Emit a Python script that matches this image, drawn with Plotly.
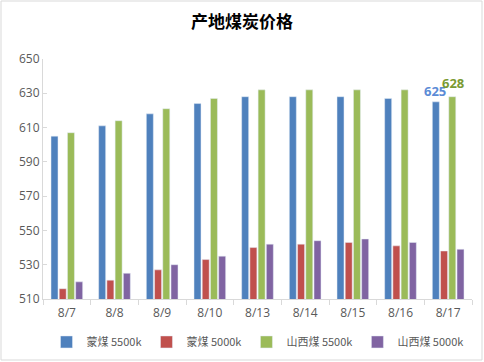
import plotly.graph_objects as go

categories = ["8/7", "8/8", "8/9", "8/10", "8/13", "8/14", "8/15", "8/16", "8/17"]
meng_5500 = [605, 611, 618, 624, 628, 628, 628, 627, 625]
meng_5000 = [516, 521, 527, 533, 540, 542, 543, 541, 538]
shanxi_5500 = [607, 614, 621, 627, 632, 632, 632, 632, 628]
shanxi_5000 = [520, 525, 530, 535, 542, 544, 545, 543, 539]
series_names = ["蒙煤 5500k", "蒙煤 5000k", "山西煤 5500k", "山西煤 5000k"]
colors = ["#4F81BD", "#C0504D", "#9BBB59", "#8064A2"]
y_ticks = [510, 530, 550, 570, 590, 610, 630, 650]

cjk = "Noto Sans CJK SC"
fig = go.Figure()
all_series = [meng_5500, meng_5000, shanxi_5500, shanxi_5000]
for name, vals, c in zip(series_names, all_series, colors):
    fig.add_trace(go.Bar(x=categories, y=vals, name=name, marker_color=c))

# data labels for the last category (blue and green series)
fig.add_annotation(x=categories[-1], y=meng_5500[-1], text="<b>%d</b>" % meng_5500[-1],
                   showarrow=False, xshift=-13, yshift=0, yanchor="bottom",
                   font=dict(color="#5B8BD6", size=13, family="Open Sans"))
fig.add_annotation(x=categories[-1], y=shanxi_5500[-1], text="<b>%d</b>" % shanxi_5500[-1],
                   showarrow=False, xshift=5, yshift=3, yanchor="bottom",
                   font=dict(color="#7A9A32", size=13, family="Open Sans"))

fig.update_layout(
    width=484, height=362,
    margin=dict(l=43, r=12, t=59, b=63, autoexpand=False),
    paper_bgcolor="white", plot_bgcolor="white",
    barmode="group", bargap=0.31, bargroupgap=0.15,
    title=dict(text="<b>产地煤炭价格</b>", x=0.5, xanchor="center", y=0.94, yanchor="middle",
               font=dict(family=cjk, size=17, color="#000000")),
    showlegend=True,
    legend=dict(orientation="h", x=0.5, xanchor="center", y=-0.179, yanchor="middle",
                font=dict(family=cjk, size=11, color="#595959"),
                itemwidth=30, traceorder="normal"),
    font=dict(family="Open Sans", color="#595959"),
)
fig.update_xaxes(
    showline=True, linecolor="#D9D9D9", linewidth=1,
    ticks="outside", tickson="boundaries", ticklen=5, tickcolor="#D9D9D9",
    tickfont=dict(size=12, color="#595959", family="Open Sans"),
    ticklabelstandoff=3, automargin=False,
    showgrid=False,
)
fig.update_yaxes(
    range=[510, 650], tickvals=y_ticks,
    showline=True, linecolor="#D9D9D9", linewidth=1,
    ticks="inside", ticklen=4, tickcolor="#D9D9D9",
    tickfont=dict(size=12, color="#595959", family="Open Sans"),
    showgrid=False, zeroline=False, automargin=False,
)
fig.add_shape(type="rect", xref="paper", yref="paper",
              x0=(1 - 43) / 429, x1=(482 - 43) / 429,
              y0=(299 - 360) / 240, y1=(299 - 1) / 240,
              line=dict(color="#D9D9D9", width=1), layer="below")
fig.write_html("out.html", config={"displayModeBar": False},
               post_script="document.body.style.margin='0';")
